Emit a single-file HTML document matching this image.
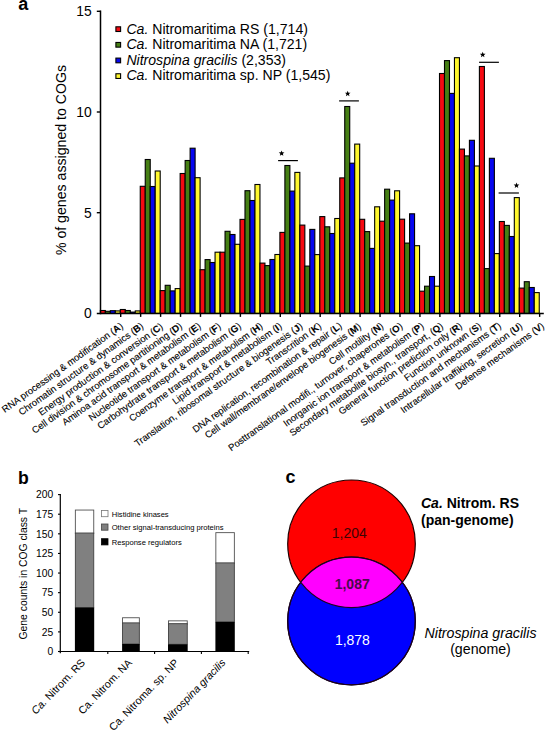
<!DOCTYPE html>
<html><head><meta charset="utf-8"><style>
html,body{margin:0;padding:0;background:#fff;}
body{width:547px;height:732px;overflow:hidden;position:relative;}
svg{position:absolute;left:0;top:0;}
text{font-family:"Liberation Sans",sans-serif;}
</style></head><body>
<svg width="547" height="732" viewBox="0 0 547 732">

<text x="18.3" y="9.9" font-size="18" font-weight="bold">a</text>
<rect x="100.35" y="310.50" width="4.99" height="2.90" fill="#f60a12" stroke="#000" stroke-width="1.1"/>
<rect x="105.34" y="311.30" width="4.99" height="2.10" fill="#467f14" stroke="#000" stroke-width="1.1"/>
<rect x="110.32" y="310.70" width="4.99" height="2.70" fill="#0606f0" stroke="#000" stroke-width="1.1"/>
<rect x="115.31" y="310.90" width="4.99" height="2.50" fill="#fff72e" stroke="#000" stroke-width="1.1"/>
<rect x="120.30" y="309.50" width="4.99" height="3.90" fill="#f60a12" stroke="#000" stroke-width="1.1"/>
<rect x="125.29" y="310.50" width="4.99" height="2.90" fill="#467f14" stroke="#000" stroke-width="1.1"/>
<rect x="130.28" y="312.10" width="4.99" height="1.30" fill="#0606f0" stroke="#000" stroke-width="1.1"/>
<rect x="135.26" y="310.90" width="4.99" height="2.50" fill="#fff72e" stroke="#000" stroke-width="1.1"/>
<rect x="140.25" y="186.30" width="4.99" height="127.10" fill="#f60a12" stroke="#000" stroke-width="1.1"/>
<rect x="145.24" y="159.50" width="4.99" height="153.90" fill="#467f14" stroke="#000" stroke-width="1.1"/>
<rect x="150.22" y="186.50" width="4.99" height="126.90" fill="#0606f0" stroke="#000" stroke-width="1.1"/>
<rect x="155.21" y="171.00" width="4.99" height="142.40" fill="#fff72e" stroke="#000" stroke-width="1.1"/>
<rect x="160.20" y="290.60" width="4.99" height="22.80" fill="#f60a12" stroke="#000" stroke-width="1.1"/>
<rect x="165.19" y="285.30" width="4.99" height="28.10" fill="#467f14" stroke="#000" stroke-width="1.1"/>
<rect x="170.17" y="290.90" width="4.99" height="22.50" fill="#0606f0" stroke="#000" stroke-width="1.1"/>
<rect x="175.16" y="288.60" width="4.99" height="24.80" fill="#fff72e" stroke="#000" stroke-width="1.1"/>
<rect x="180.15" y="173.50" width="4.99" height="139.90" fill="#f60a12" stroke="#000" stroke-width="1.1"/>
<rect x="185.14" y="160.50" width="4.99" height="152.90" fill="#467f14" stroke="#000" stroke-width="1.1"/>
<rect x="190.12" y="148.20" width="4.99" height="165.20" fill="#0606f0" stroke="#000" stroke-width="1.1"/>
<rect x="195.11" y="177.70" width="4.99" height="135.70" fill="#fff72e" stroke="#000" stroke-width="1.1"/>
<rect x="200.10" y="269.70" width="4.99" height="43.70" fill="#f60a12" stroke="#000" stroke-width="1.1"/>
<rect x="205.09" y="259.60" width="4.99" height="53.80" fill="#467f14" stroke="#000" stroke-width="1.1"/>
<rect x="210.07" y="262.50" width="4.99" height="50.90" fill="#0606f0" stroke="#000" stroke-width="1.1"/>
<rect x="215.06" y="252.20" width="4.99" height="61.20" fill="#fff72e" stroke="#000" stroke-width="1.1"/>
<rect x="220.05" y="252.20" width="4.99" height="61.20" fill="#f60a12" stroke="#000" stroke-width="1.1"/>
<rect x="225.04" y="231.30" width="4.99" height="82.10" fill="#467f14" stroke="#000" stroke-width="1.1"/>
<rect x="230.02" y="234.50" width="4.99" height="78.90" fill="#0606f0" stroke="#000" stroke-width="1.1"/>
<rect x="235.01" y="244.30" width="4.99" height="69.10" fill="#fff72e" stroke="#000" stroke-width="1.1"/>
<rect x="240.00" y="219.40" width="4.99" height="94.00" fill="#f60a12" stroke="#000" stroke-width="1.1"/>
<rect x="244.99" y="190.70" width="4.99" height="122.70" fill="#467f14" stroke="#000" stroke-width="1.1"/>
<rect x="249.97" y="200.50" width="4.99" height="112.90" fill="#0606f0" stroke="#000" stroke-width="1.1"/>
<rect x="254.96" y="184.50" width="4.99" height="128.90" fill="#fff72e" stroke="#000" stroke-width="1.1"/>
<rect x="259.95" y="263.10" width="4.99" height="50.30" fill="#f60a12" stroke="#000" stroke-width="1.1"/>
<rect x="264.94" y="265.60" width="4.99" height="47.80" fill="#467f14" stroke="#000" stroke-width="1.1"/>
<rect x="269.93" y="259.50" width="4.99" height="53.90" fill="#0606f0" stroke="#000" stroke-width="1.1"/>
<rect x="274.91" y="254.50" width="4.99" height="58.90" fill="#fff72e" stroke="#000" stroke-width="1.1"/>
<rect x="279.90" y="232.40" width="4.99" height="81.00" fill="#f60a12" stroke="#000" stroke-width="1.1"/>
<rect x="284.89" y="165.50" width="4.99" height="147.90" fill="#467f14" stroke="#000" stroke-width="1.1"/>
<rect x="289.88" y="191.10" width="4.99" height="122.30" fill="#0606f0" stroke="#000" stroke-width="1.1"/>
<rect x="294.86" y="172.40" width="4.99" height="141.00" fill="#fff72e" stroke="#000" stroke-width="1.1"/>
<rect x="299.85" y="225.10" width="4.99" height="88.30" fill="#f60a12" stroke="#000" stroke-width="1.1"/>
<rect x="304.84" y="266.10" width="4.99" height="47.30" fill="#467f14" stroke="#000" stroke-width="1.1"/>
<rect x="309.83" y="229.40" width="4.99" height="84.00" fill="#0606f0" stroke="#000" stroke-width="1.1"/>
<rect x="314.81" y="254.60" width="4.99" height="58.80" fill="#fff72e" stroke="#000" stroke-width="1.1"/>
<rect x="319.80" y="216.60" width="4.99" height="96.80" fill="#f60a12" stroke="#000" stroke-width="1.1"/>
<rect x="324.79" y="226.80" width="4.99" height="86.60" fill="#467f14" stroke="#000" stroke-width="1.1"/>
<rect x="329.77" y="233.50" width="4.99" height="79.90" fill="#0606f0" stroke="#000" stroke-width="1.1"/>
<rect x="334.76" y="218.50" width="4.99" height="94.90" fill="#fff72e" stroke="#000" stroke-width="1.1"/>
<rect x="339.75" y="177.90" width="4.99" height="135.50" fill="#f60a12" stroke="#000" stroke-width="1.1"/>
<rect x="344.74" y="106.50" width="4.99" height="206.90" fill="#467f14" stroke="#000" stroke-width="1.1"/>
<rect x="349.73" y="163.20" width="4.99" height="150.20" fill="#0606f0" stroke="#000" stroke-width="1.1"/>
<rect x="354.71" y="144.10" width="4.99" height="169.30" fill="#fff72e" stroke="#000" stroke-width="1.1"/>
<rect x="359.70" y="219.30" width="4.99" height="94.10" fill="#f60a12" stroke="#000" stroke-width="1.1"/>
<rect x="364.69" y="231.60" width="4.99" height="81.80" fill="#467f14" stroke="#000" stroke-width="1.1"/>
<rect x="369.67" y="248.40" width="4.99" height="65.00" fill="#0606f0" stroke="#000" stroke-width="1.1"/>
<rect x="374.66" y="206.80" width="4.99" height="106.60" fill="#fff72e" stroke="#000" stroke-width="1.1"/>
<rect x="379.65" y="221.20" width="4.99" height="92.20" fill="#f60a12" stroke="#000" stroke-width="1.1"/>
<rect x="384.64" y="189.20" width="4.99" height="124.20" fill="#467f14" stroke="#000" stroke-width="1.1"/>
<rect x="389.62" y="200.10" width="4.99" height="113.30" fill="#0606f0" stroke="#000" stroke-width="1.1"/>
<rect x="394.61" y="190.80" width="4.99" height="122.60" fill="#fff72e" stroke="#000" stroke-width="1.1"/>
<rect x="399.60" y="219.20" width="4.99" height="94.20" fill="#f60a12" stroke="#000" stroke-width="1.1"/>
<rect x="404.59" y="243.10" width="4.99" height="70.30" fill="#467f14" stroke="#000" stroke-width="1.1"/>
<rect x="409.58" y="213.80" width="4.99" height="99.60" fill="#0606f0" stroke="#000" stroke-width="1.1"/>
<rect x="414.56" y="245.70" width="4.99" height="67.70" fill="#fff72e" stroke="#000" stroke-width="1.1"/>
<rect x="419.55" y="291.20" width="4.99" height="22.20" fill="#f60a12" stroke="#000" stroke-width="1.1"/>
<rect x="424.54" y="286.20" width="4.99" height="27.20" fill="#467f14" stroke="#000" stroke-width="1.1"/>
<rect x="429.52" y="276.50" width="4.99" height="36.90" fill="#0606f0" stroke="#000" stroke-width="1.1"/>
<rect x="434.51" y="286.20" width="4.99" height="27.20" fill="#fff72e" stroke="#000" stroke-width="1.1"/>
<rect x="439.50" y="73.50" width="4.99" height="239.90" fill="#f60a12" stroke="#000" stroke-width="1.1"/>
<rect x="444.49" y="60.60" width="4.99" height="252.80" fill="#467f14" stroke="#000" stroke-width="1.1"/>
<rect x="449.48" y="93.40" width="4.99" height="220.00" fill="#0606f0" stroke="#000" stroke-width="1.1"/>
<rect x="454.46" y="57.70" width="4.99" height="255.70" fill="#fff72e" stroke="#000" stroke-width="1.1"/>
<rect x="459.45" y="149.10" width="4.99" height="164.30" fill="#f60a12" stroke="#000" stroke-width="1.1"/>
<rect x="464.44" y="155.90" width="4.99" height="157.50" fill="#467f14" stroke="#000" stroke-width="1.1"/>
<rect x="469.42" y="140.30" width="4.99" height="173.10" fill="#0606f0" stroke="#000" stroke-width="1.1"/>
<rect x="474.41" y="166.00" width="4.99" height="147.40" fill="#fff72e" stroke="#000" stroke-width="1.1"/>
<rect x="479.40" y="66.50" width="4.99" height="246.90" fill="#f60a12" stroke="#000" stroke-width="1.1"/>
<rect x="484.39" y="268.60" width="4.99" height="44.80" fill="#467f14" stroke="#000" stroke-width="1.1"/>
<rect x="489.38" y="158.30" width="4.99" height="155.10" fill="#0606f0" stroke="#000" stroke-width="1.1"/>
<rect x="494.36" y="253.60" width="4.99" height="59.80" fill="#fff72e" stroke="#000" stroke-width="1.1"/>
<rect x="499.35" y="221.50" width="4.99" height="91.90" fill="#f60a12" stroke="#000" stroke-width="1.1"/>
<rect x="504.34" y="225.40" width="4.99" height="88.00" fill="#467f14" stroke="#000" stroke-width="1.1"/>
<rect x="509.33" y="236.50" width="4.99" height="76.90" fill="#0606f0" stroke="#000" stroke-width="1.1"/>
<rect x="514.31" y="197.60" width="4.99" height="115.80" fill="#fff72e" stroke="#000" stroke-width="1.1"/>
<rect x="519.30" y="288.10" width="4.99" height="25.30" fill="#f60a12" stroke="#000" stroke-width="1.1"/>
<rect x="524.29" y="281.70" width="4.99" height="31.70" fill="#467f14" stroke="#000" stroke-width="1.1"/>
<rect x="529.27" y="287.50" width="4.99" height="25.90" fill="#0606f0" stroke="#000" stroke-width="1.1"/>
<rect x="534.26" y="292.60" width="4.99" height="20.80" fill="#fff72e" stroke="#000" stroke-width="1.1"/>
<line x1="100.5" y1="10.6" x2="100.5" y2="314.15" stroke="#000" stroke-width="1.5"/>
<line x1="96.8" y1="313.4" x2="543.8" y2="313.4" stroke="#000" stroke-width="1.5"/>
<line x1="96.8" y1="212.70" x2="100.5" y2="212.70" stroke="#000" stroke-width="1.4"/>
<line x1="96.8" y1="112.00" x2="100.5" y2="112.00" stroke="#000" stroke-width="1.4"/>
<line x1="96.8" y1="11.30" x2="100.5" y2="11.30" stroke="#000" stroke-width="1.4"/>
<line x1="120.70" y1="313.4" x2="120.70" y2="316.9" stroke="#000" stroke-width="1.4"/>
<line x1="140.65" y1="313.4" x2="140.65" y2="316.9" stroke="#000" stroke-width="1.4"/>
<line x1="160.60" y1="313.4" x2="160.60" y2="316.9" stroke="#000" stroke-width="1.4"/>
<line x1="180.55" y1="313.4" x2="180.55" y2="316.9" stroke="#000" stroke-width="1.4"/>
<line x1="200.50" y1="313.4" x2="200.50" y2="316.9" stroke="#000" stroke-width="1.4"/>
<line x1="220.45" y1="313.4" x2="220.45" y2="316.9" stroke="#000" stroke-width="1.4"/>
<line x1="240.40" y1="313.4" x2="240.40" y2="316.9" stroke="#000" stroke-width="1.4"/>
<line x1="260.35" y1="313.4" x2="260.35" y2="316.9" stroke="#000" stroke-width="1.4"/>
<line x1="280.30" y1="313.4" x2="280.30" y2="316.9" stroke="#000" stroke-width="1.4"/>
<line x1="300.25" y1="313.4" x2="300.25" y2="316.9" stroke="#000" stroke-width="1.4"/>
<line x1="320.20" y1="313.4" x2="320.20" y2="316.9" stroke="#000" stroke-width="1.4"/>
<line x1="340.15" y1="313.4" x2="340.15" y2="316.9" stroke="#000" stroke-width="1.4"/>
<line x1="360.10" y1="313.4" x2="360.10" y2="316.9" stroke="#000" stroke-width="1.4"/>
<line x1="380.05" y1="313.4" x2="380.05" y2="316.9" stroke="#000" stroke-width="1.4"/>
<line x1="400.00" y1="313.4" x2="400.00" y2="316.9" stroke="#000" stroke-width="1.4"/>
<line x1="419.95" y1="313.4" x2="419.95" y2="316.9" stroke="#000" stroke-width="1.4"/>
<line x1="439.90" y1="313.4" x2="439.90" y2="316.9" stroke="#000" stroke-width="1.4"/>
<line x1="459.85" y1="313.4" x2="459.85" y2="316.9" stroke="#000" stroke-width="1.4"/>
<line x1="479.80" y1="313.4" x2="479.80" y2="316.9" stroke="#000" stroke-width="1.4"/>
<line x1="499.75" y1="313.4" x2="499.75" y2="316.9" stroke="#000" stroke-width="1.4"/>
<line x1="519.70" y1="313.4" x2="519.70" y2="316.9" stroke="#000" stroke-width="1.4"/>
<line x1="539.65" y1="313.4" x2="539.65" y2="316.9" stroke="#000" stroke-width="1.4"/>
<text x="91.7" y="318.30" font-size="13.9" text-anchor="end">0</text>
<text x="91.7" y="217.60" font-size="13.9" text-anchor="end">5</text>
<text x="91.7" y="116.90" font-size="13.9" text-anchor="end">10</text>
<text x="91.7" y="16.20" font-size="13.9" text-anchor="end">15</text>
<text transform="translate(66.2,160.0) rotate(-90)" font-size="14.15" text-anchor="middle">% of genes assigned to COGs</text>
<rect x="115.9" y="26.80" width="4.7" height="4.7" fill="#f60a12" stroke="#000" stroke-width="1.1"/>
<text x="126.4" y="33.50" font-size="14.08"><tspan font-style="italic">Ca.</tspan> Nitromaritima RS (1,714)</text>
<rect x="115.9" y="42.45" width="4.7" height="4.7" fill="#467f14" stroke="#000" stroke-width="1.1"/>
<text x="126.4" y="49.15" font-size="14.08"><tspan font-style="italic">Ca.</tspan> Nitromaritima NA (1,721)</text>
<rect x="115.9" y="58.10" width="4.7" height="4.7" fill="#0606f0" stroke="#000" stroke-width="1.1"/>
<text x="126.4" y="64.80" font-size="14.08"><tspan font-style="italic">Nitrospina gracilis</tspan> (2,353)</text>
<rect x="115.9" y="73.75" width="4.7" height="4.7" fill="#fff72e" stroke="#000" stroke-width="1.1"/>
<text x="126.4" y="80.45" font-size="14.08"><tspan font-style="italic">Ca.</tspan> Nitromaritima sp. NP (1,545)</text>
<line x1="278.1" y1="160.6" x2="297.9" y2="160.6" stroke="#000" stroke-width="1.2"/>
<polygon points="281.60,150.40 282.36,152.35 284.45,152.47 282.84,153.80 283.36,155.83 281.60,154.70 279.84,155.83 280.36,153.80 278.75,152.47 280.84,152.35" fill="#000"/>
<line x1="339.1" y1="100.9" x2="358.9" y2="100.9" stroke="#000" stroke-width="1.2"/>
<polygon points="347.70,90.70 348.46,92.65 350.55,92.77 348.94,94.10 349.46,96.13 347.70,95.00 345.94,96.13 346.46,94.10 344.85,92.77 346.94,92.65" fill="#000"/>
<line x1="479.1" y1="62.3" x2="498.9" y2="62.3" stroke="#000" stroke-width="1.2"/>
<polygon points="482.70,51.80 483.46,53.75 485.55,53.87 483.94,55.20 484.46,57.23 482.70,56.10 480.94,57.23 481.46,55.20 479.85,53.87 481.94,53.75" fill="#000"/>
<line x1="498.6" y1="193.0" x2="518.9" y2="193.0" stroke="#000" stroke-width="1.2"/>
<polygon points="516.50,182.50 517.26,184.45 519.35,184.57 517.74,185.90 518.26,187.93 516.50,186.80 514.74,187.93 515.26,185.90 513.65,184.57 515.74,184.45" fill="#000"/>
<text transform="translate(123.72,327.50) rotate(-35.75)" font-size="9.53" text-anchor="end" stroke="#000" stroke-width="0.12">RNA processing &amp; modification (<tspan font-weight="bold">A</tspan>)</text>
<text transform="translate(144.18,327.50) rotate(-35.75)" font-size="9.53" text-anchor="end" stroke="#000" stroke-width="0.12">Chromatin structure &amp; dynamics (<tspan font-weight="bold">B</tspan>)</text>
<text transform="translate(163.62,327.90) rotate(-35.75)" font-size="9.53" text-anchor="end" stroke="#000" stroke-width="0.12">Energy production &amp; conversion (<tspan font-weight="bold">C</tspan>)</text>
<text transform="translate(182.88,327.50) rotate(-35.75)" font-size="9.53" text-anchor="end" stroke="#000" stroke-width="0.12">Cell division &amp; chromosome partitioning (<tspan font-weight="bold">D</tspan>)</text>
<text transform="translate(201.53,327.50) rotate(-35.75)" font-size="9.53" text-anchor="end" stroke="#000" stroke-width="0.12">Aminoa acid transport &amp; metabolism (<tspan font-weight="bold">E</tspan>)</text>
<text transform="translate(221.67,327.70) rotate(-35.75)" font-size="9.53" text-anchor="end" stroke="#000" stroke-width="0.12">Nucleotide transport &amp; metabolism (<tspan font-weight="bold">F</tspan>)</text>
<text transform="translate(241.92,327.50) rotate(-35.75)" font-size="9.53" text-anchor="end" stroke="#000" stroke-width="0.12">Carbohydrate transport &amp; metabolism (<tspan font-weight="bold">G</tspan>)</text>
<text transform="translate(263.38,327.50) rotate(-35.75)" font-size="9.53" text-anchor="end" stroke="#000" stroke-width="0.12">Coenzyme transport &amp; metabolism (<tspan font-weight="bold">H</tspan>)</text>
<text transform="translate(282.53,327.50) rotate(-35.75)" font-size="9.53" text-anchor="end" stroke="#000" stroke-width="0.12">Lipid transport &amp; metabolism (<tspan font-weight="bold">I</tspan>)</text>
<text transform="translate(303.27,327.50) rotate(-35.75)" font-size="9.53" text-anchor="end" stroke="#000" stroke-width="0.12">Translation, ribosomal structure &amp; biogenesis (<tspan font-weight="bold">J</tspan>)</text>
<text transform="translate(322.03,327.50) rotate(-35.75)" font-size="9.53" text-anchor="end" stroke="#000" stroke-width="0.12">Transcrition (<tspan font-weight="bold">K</tspan>)</text>
<text transform="translate(342.68,327.10) rotate(-35.75)" font-size="9.53" text-anchor="end" stroke="#000" stroke-width="0.12">DNA replication, recombination &amp; repair (<tspan font-weight="bold">L</tspan>)</text>
<text transform="translate(361.82,327.90) rotate(-35.75)" font-size="9.53" text-anchor="end" stroke="#000" stroke-width="0.12">Cell wall/membrane/envelope biogenesis (<tspan font-weight="bold">M</tspan>)</text>
<text transform="translate(384.18,327.50) rotate(-35.75)" font-size="9.53" text-anchor="end" stroke="#000" stroke-width="0.12">Cell motility (<tspan font-weight="bold">N</tspan>)</text>
<text transform="translate(403.43,327.50) rotate(-35.75)" font-size="9.53" text-anchor="end" stroke="#000" stroke-width="0.12">Posttranslational modifi., turnover, chaperones (<tspan font-weight="bold">O</tspan>)</text>
<text transform="translate(424.48,327.50) rotate(-35.75)" font-size="9.53" text-anchor="end" stroke="#000" stroke-width="0.12">Inorganic ion transport &amp; metabolism (<tspan font-weight="bold">P</tspan>)</text>
<text transform="translate(443.93,327.50) rotate(-35.75)" font-size="9.53" text-anchor="end" stroke="#000" stroke-width="0.12">Secondary metabolite biosyn., transport, (<tspan font-weight="bold">Q</tspan>)</text>
<text transform="translate(462.88,327.50) rotate(-35.75)" font-size="9.53" text-anchor="end" stroke="#000" stroke-width="0.12">General function prediction only (<tspan font-weight="bold">R</tspan>)</text>
<text transform="translate(482.12,327.50) rotate(-35.75)" font-size="9.53" text-anchor="end" stroke="#000" stroke-width="0.12">Function unknown (<tspan font-weight="bold">S</tspan>)</text>
<text transform="translate(501.78,327.10) rotate(-35.75)" font-size="9.53" text-anchor="end" stroke="#000" stroke-width="0.12">Signal transduction and mechanisms (<tspan font-weight="bold">T</tspan>)</text>
<text transform="translate(523.12,327.50) rotate(-35.75)" font-size="9.53" text-anchor="end" stroke="#000" stroke-width="0.12">Intracellular traffiking, secretion (<tspan font-weight="bold">U</tspan>)</text>
<text transform="translate(544.88,327.50) rotate(-35.75)" font-size="9.53" text-anchor="end" stroke="#000" stroke-width="0.12">Defense mechanisms (<tspan font-weight="bold">V</tspan>)</text>
<text x="18.0" y="483.9" font-size="17.6" font-weight="bold">b</text>
<line x1="60.3" y1="494" x2="60.3" y2="653.3" stroke="#000" stroke-width="1.2"/>
<line x1="58.0" y1="651.5" x2="249.2" y2="651.5" stroke="#000" stroke-width="1.2"/>
<line x1="58.0" y1="651.50" x2="60.3" y2="651.50" stroke="#000" stroke-width="1.1"/>
<text x="53.2" y="655.30" font-size="10.3" text-anchor="end">0</text>
<line x1="58.0" y1="631.89" x2="60.3" y2="631.89" stroke="#000" stroke-width="1.1"/>
<text x="53.2" y="635.69" font-size="10.3" text-anchor="end">25</text>
<line x1="58.0" y1="612.27" x2="60.3" y2="612.27" stroke="#000" stroke-width="1.1"/>
<text x="53.2" y="616.07" font-size="10.3" text-anchor="end">50</text>
<line x1="58.0" y1="592.66" x2="60.3" y2="592.66" stroke="#000" stroke-width="1.1"/>
<text x="53.2" y="596.46" font-size="10.3" text-anchor="end">75</text>
<line x1="58.0" y1="573.05" x2="60.3" y2="573.05" stroke="#000" stroke-width="1.1"/>
<text x="53.2" y="576.85" font-size="10.3" text-anchor="end">100</text>
<line x1="58.0" y1="553.44" x2="60.3" y2="553.44" stroke="#000" stroke-width="1.1"/>
<text x="53.2" y="557.24" font-size="10.3" text-anchor="end">125</text>
<line x1="58.0" y1="533.83" x2="60.3" y2="533.83" stroke="#000" stroke-width="1.1"/>
<text x="53.2" y="537.62" font-size="10.3" text-anchor="end">150</text>
<line x1="58.0" y1="514.21" x2="60.3" y2="514.21" stroke="#000" stroke-width="1.1"/>
<text x="53.2" y="518.01" font-size="10.3" text-anchor="end">175</text>
<line x1="58.0" y1="494.60" x2="60.3" y2="494.60" stroke="#000" stroke-width="1.1"/>
<text x="53.2" y="498.40" font-size="10.3" text-anchor="end">200</text>
<line x1="107.80" y1="651.5" x2="107.80" y2="654.0" stroke="#000" stroke-width="1.1"/>
<line x1="154.60" y1="651.5" x2="154.60" y2="654.0" stroke="#000" stroke-width="1.1"/>
<line x1="201.40" y1="651.5" x2="201.40" y2="654.0" stroke="#000" stroke-width="1.1"/>
<line x1="248.20" y1="651.5" x2="248.20" y2="654.0" stroke="#000" stroke-width="1.1"/>
<rect x="75.35" y="510.05" width="18.40" height="23.40" fill="#fff" stroke="#505050" stroke-width="0.9"/>
<rect x="75.35" y="533.00" width="18.40" height="74.60" fill="#808080" stroke="#404040" stroke-width="0.9"/>
<rect x="74.90" y="607.60" width="19.30" height="43.90" fill="#000"/>
<rect x="122.55" y="617.75" width="16.80" height="5.60" fill="#fff" stroke="#505050" stroke-width="0.9"/>
<rect x="122.55" y="622.90" width="16.80" height="21.10" fill="#808080" stroke="#404040" stroke-width="0.9"/>
<rect x="122.10" y="644.00" width="17.70" height="7.50" fill="#000"/>
<rect x="168.45" y="620.85" width="18.80" height="3.30" fill="#fff" stroke="#505050" stroke-width="0.9"/>
<rect x="168.45" y="623.70" width="18.80" height="20.60" fill="#808080" stroke="#404040" stroke-width="0.9"/>
<rect x="168.00" y="644.30" width="19.70" height="7.20" fill="#000"/>
<rect x="215.85" y="532.65" width="18.50" height="30.70" fill="#fff" stroke="#505050" stroke-width="0.9"/>
<rect x="215.85" y="562.90" width="18.50" height="59.00" fill="#808080" stroke="#404040" stroke-width="0.9"/>
<rect x="215.40" y="621.90" width="19.40" height="29.60" fill="#000"/>
<text transform="translate(27.4,573.7) rotate(-90)" font-size="10.35" text-anchor="middle">Gene counts in COG class T</text>
<rect x="101.5" y="510.50" width="6.5" height="6.2" fill="#fff" stroke="#777" stroke-width="0.8"/>
<text x="111.7" y="516.90" font-size="7.6">Histidine kinases</text>
<rect x="101.5" y="524.00" width="6.5" height="6.2" fill="#808080" stroke="#444" stroke-width="0.8"/>
<text x="111.7" y="530.20" font-size="7.6">Other signal-transducing proteins</text>
<rect x="101.5" y="538.70" width="6.5" height="6.2" fill="#000" stroke="#000" stroke-width="0.8"/>
<text x="111.7" y="544.60" font-size="7.6">Response regulators</text>
<text transform="translate(85.80,663.25) rotate(-46)" font-size="10.7" text-anchor="end"><tspan font-style="italic">Ca.</tspan> Nitrom. RS</text>
<text transform="translate(132.60,663.25) rotate(-46)" font-size="10.7" text-anchor="end">Ca. Nitrom. NA</text>
<text transform="translate(179.40,663.25) rotate(-46)" font-size="10.7" text-anchor="end">Ca. Nitroma. sp. NP</text>
<text transform="translate(226.20,663.25) rotate(-46)" font-size="10.7" text-anchor="end"><tspan font-style="italic">Nitrospina gracilis</tspan></text>
<text x="285.6" y="483.4" font-size="18" font-weight="bold">c</text>
<defs><clipPath id="cb"><circle cx="351.5" cy="621" r="63.8"/></clipPath></defs>
<circle cx="351.5" cy="543.8" r="63.8" fill="#ff0000" stroke="#200000" stroke-width="1.2"/>
<circle cx="351.5" cy="621" r="63.8" fill="#0000ff" stroke="#000020" stroke-width="1.2"/>
<circle cx="351.5" cy="543.8" r="63.8" fill="#ff00ff" stroke="#200020" stroke-width="1.2" clip-path="url(#cb)"/>
<circle cx="351.5" cy="621" r="63.8" fill="none" stroke="#200020" stroke-width="1.2"/>
<text x="349.3" y="537.7" font-size="14" text-anchor="middle" fill="#3c0404">1,204</text>
<text x="352.2" y="588.8" font-size="14" text-anchor="middle" font-weight="bold" fill="#4a0a4a">1,087</text>
<text x="352.4" y="645" font-size="14" text-anchor="middle" fill="#ffffff">1,878</text>
<text x="421" y="508" font-size="14" font-weight="bold"><tspan font-style="italic">Ca.</tspan> Nitrom. RS</text>
<text x="421" y="524.6" font-size="14" font-weight="bold">(pan-genome)</text>
<text x="480.5" y="637.5" font-size="14.2" text-anchor="middle" font-style="italic">Nitrospina gracilis</text>
<text x="480.5" y="653.8" font-size="14.2" text-anchor="middle">(genome)</text>
</svg></body></html>
